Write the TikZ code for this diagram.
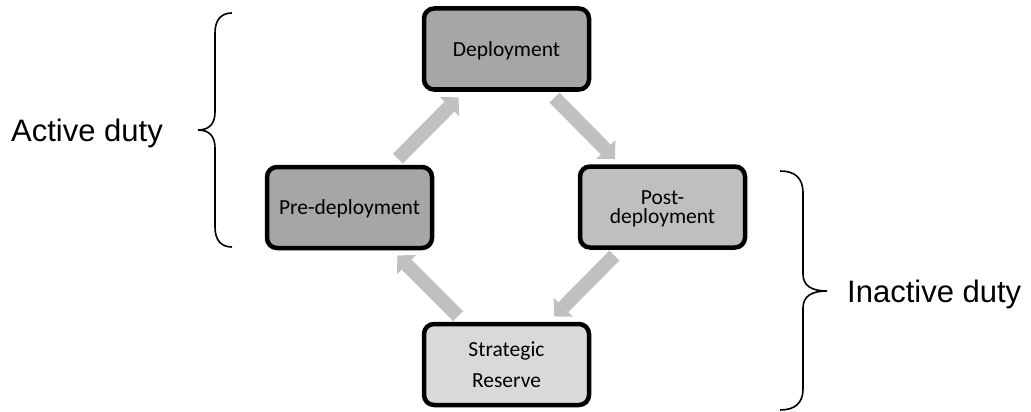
\documentclass[tikz,border=0pt]{standalone}
\usepackage{fontspec}
\setmainfont{Carlito}
\newfontfamily\arialfont{Liberation Sans}
\usetikzlibrary{arrows.meta,calc}
\definecolor{darkfill}{HTML}{A6A6A6}
\definecolor{midfill}{HTML}{BFBFBF}
\definecolor{lightfill}{HTML}{D9D9D9}
\definecolor{arrowgray}{HTML}{C0C0C0}
\tikzset{
  stage/.style={draw=black, line width=4.5pt, rounded corners=10pt,
    minimum width=165pt, minimum height=81pt, align=center, text depth=0pt,
    font=\fontsize{21.5}{19.5}\selectfont, inner sep=0pt},
  flow/.style={line width=14pt, draw=arrowgray,
    -{Triangle[length=13pt,width=27pt,line width=0pt]}},
  bracepath/.style={line width=1.6pt, draw=black},
  dutylabel/.style={font=\arialfont\fontsize{31}{36}\selectfont, inner sep=0pt, anchor=base west}
}
\begin{document}
\begin{tikzpicture}[x=1pt,y=-1pt]
\useasboundingbox (0,0) rectangle (1031,412);
\node[stage, fill=darkfill] (dep) at (506.5,49) {Deployment};
\node[stage, fill=darkfill] (pre) at (349.5,207.5) {Pre-deployment};
\node[stage, fill=midfill] (post) at (662.5,207) {Post-\\deployment};
\node[stage, fill=lightfill, font=\fontsize{21.5}{31}\selectfont] (res) at (506.5,364.5) {Strategic\\Reserve};

\draw[flow] ($(pre.center)!0.308!(dep.center)$) -- ($(pre.center)!0.695!(dep.center)$);
\draw[flow] ($(dep.center)!0.308!(post.center)$) -- ($(dep.center)!0.695!(post.center)$);
\draw[flow] ($(post.center)!0.308!(res.center)$) -- ($(post.center)!0.695!(res.center)$);
\draw[flow] ($(res.center)!0.308!(pre.center)$) -- ($(res.center)!0.695!(pre.center)$);

\draw[bracepath] (232,13) .. controls (221,13) and (215,20) .. (215,33)
  -- (215,112) .. controls (215,124) and (209,130) .. (198,130)
  .. controls (209,130) and (215,136) .. (215,148)
  -- (215,227) .. controls (215,240) and (221,247) .. (232,247);
\draw[bracepath] (780,171) .. controls (795,171) and (803,178) .. (803,193)
  -- (803,274) .. controls (803,286) and (812,291) .. (827,291)
  .. controls (812,291) and (803,296) .. (803,308)
  -- (803,389) .. controls (803,403) and (795,410) .. (780,410);

\node[dutylabel] (active) at (11,141) {Active duty};
\node[dutylabel] (inactive) at (847,302.3) {Inactive duty};
\end{tikzpicture}
\end{document}
